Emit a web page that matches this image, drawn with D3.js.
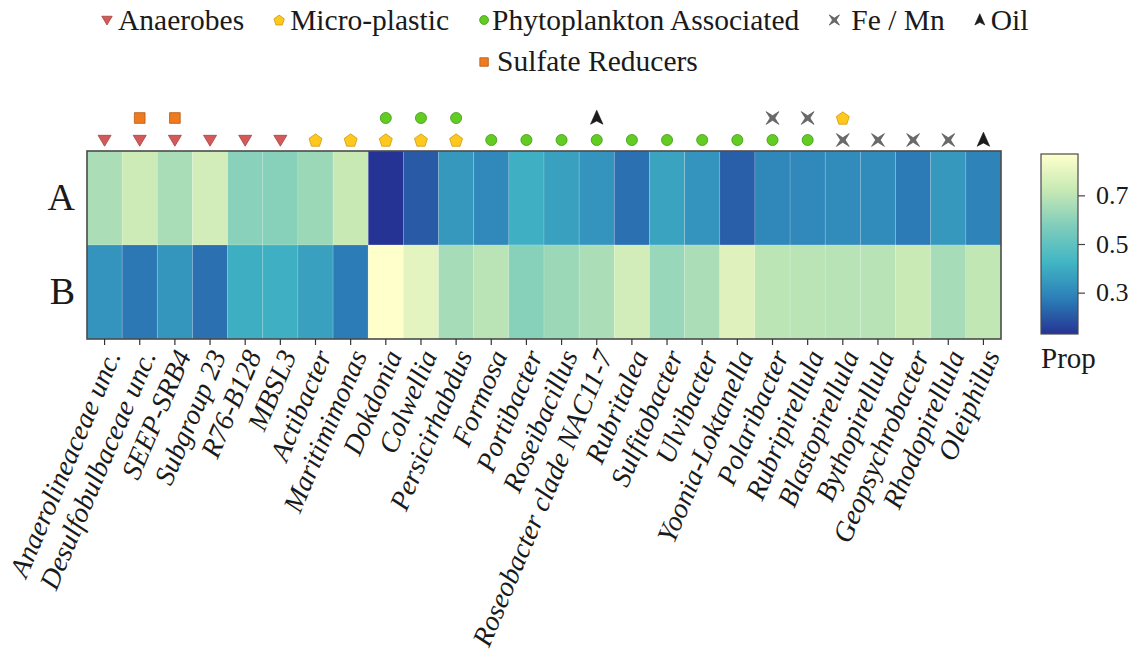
<!DOCTYPE html>
<html>
<head>
<meta charset="utf-8">
<script src="https://cdn.jsdelivr.net/npm/d3@7"></script>
<style>
  body { margin: 0; background: #fff; }
  text { font-family: "Liberation Serif", "Times New Roman", serif; fill: #1a1a1a; }
</style>
</head>
<body>
<svg id="chart" width="1139" height="668" font-family="Liberation Serif, Times New Roman, serif"></svg>
<script>
// Genera shown along the x axis
const taxa = [
  "Anaerolineaceae unc.", "Desulfobulbaceae unc.", "SEEP-SRB4", "Subgroup 23", "R76-B128", "MBSL3",
  "Actibacter", "Maritimimonas", "Dokdonia", "Colwellia", "Persicirhabdus", "Formosa",
  "Portibacter", "Roseibacillus", "Roseobacter clade NAC11-7", "Rubritalea", "Sulfitobacter",
  "Ulvibacter", "Yoonia-Loktanella", "Polaribacter", "Rubripirellula", "Blastopirellula",
  "Bythopirellula", "Geopsychrobacter", "Rhodopirellula", "Oleiphilus"
];

// Sample rows
const samples = ["A", "B"];

// Proportion of each genus found in sample A and sample B
const propA = [0.665, 0.735, 0.660, 0.750, 0.595, 0.590, 0.630, 0.725, 0.130, 0.205, 0.345, 0.305,
               0.410, 0.370, 0.335, 0.250, 0.375, 0.335, 0.215, 0.300, 0.305, 0.310, 0.310, 0.270,
               0.345, 0.290];
const propB = [0.335, 0.265, 0.340, 0.250, 0.405, 0.410, 0.370, 0.275, 0.870, 0.795, 0.655, 0.695,
               0.590, 0.630, 0.665, 0.750, 0.625, 0.665, 0.785, 0.700, 0.695, 0.690, 0.690, 0.730,
               0.655, 0.710];

// Functional groups and their marker styles
const groupNames  = ["Anaerobes", "Micro-plastic", "Phytoplankton Associated", "Fe / Mn", "Oil", "Sulfate Reducers"];
const groupShapes = ["triangleDown", "pentagon", "circle", "star4", "arrow", "square"];
const groupFill   = ["#d25a5a", "#ffc81e", "#62cc23", "#6a6a6a", "#1c1c1c", "#f07a1e"];
const groupStroke = ["#a84040", "#c89a10", "#3f9a12", "#4a4a4a", "#111111", "#b45a14"];

// Group marker per genus: row next to the heatmap and the row above it
const markerLower = [
  "Anaerobes", "Anaerobes", "Anaerobes", "Anaerobes", "Anaerobes", "Anaerobes",
  "Micro-plastic", "Micro-plastic", "Micro-plastic", "Micro-plastic", "Micro-plastic",
  "Phytoplankton Associated", "Phytoplankton Associated", "Phytoplankton Associated",
  "Phytoplankton Associated", "Phytoplankton Associated", "Phytoplankton Associated",
  "Phytoplankton Associated", "Phytoplankton Associated", "Phytoplankton Associated",
  "Phytoplankton Associated", "Fe / Mn", "Fe / Mn", "Fe / Mn", "Fe / Mn", "Oil"
];
const markerUpper = [
  null, "Sulfate Reducers", "Sulfate Reducers", null, null, null, null, null,
  "Phytoplankton Associated", "Phytoplankton Associated", "Phytoplankton Associated",
  null, null, null, "Oil", null, null, null, null, "Fe / Mn", "Fe / Mn", "Micro-plastic",
  null, null, null, null
];

// Colour bar ticks and palette (YlGnBu, light = high)
const colorbarTicks = [0.3, 0.5, 0.7];
const paletteStops = ["#ffffcc", "#c7e9b4", "#7fcdbb", "#41b6c4", "#2c7fb8", "#253494"];

const svg = d3.select("#chart");

// ---- shapes ----
function shapePath(shape, r) {
  const p = d3.path();
  if (shape === "triangleDown") {
    p.moveTo(-r, -0.72 * r); p.lineTo(r, -0.72 * r); p.lineTo(0, 0.95 * r); p.closePath();
  } else if (shape === "pentagon") {
    for (let k = 0; k < 5; k++) {
      const a = (-90 + k * 72) * Math.PI / 180;
      const px = r * Math.cos(a), py = r * Math.sin(a) + 0.1 * r;
      k ? p.lineTo(px, py) : p.moveTo(px, py);
    }
    p.closePath();
  } else if (shape === "circle") {
    p.arc(0, 0, r * 0.85, 0, 2 * Math.PI);
  } else if (shape === "square") {
    const s = r * 0.82;
    p.rect(-s, -s, 2 * s, 2 * s);
  } else if (shape === "star4") {
    for (let k = 0; k < 8; k++) {
      const a = (45 + k * 45) * Math.PI / 180;
      const rr = k % 2 === 0 ? r : r * 0.26;
      const px = rr * Math.cos(a), py = rr * Math.sin(a);
      k ? p.lineTo(px, py) : p.moveTo(px, py);
    }
    p.closePath();
  } else if (shape === "arrow") {
    p.moveTo(0, -r); p.lineTo(0.8 * r, 0.8 * r); p.lineTo(0, 0.38 * r); p.lineTo(-0.8 * r, 0.8 * r); p.closePath();
  }
  return p.toString();
}
// star and arrow glyphs read smaller, so they get a larger radius
const shapeScale = { triangleDown: 1, pentagon: 1.05, circle: 1, square: 1, star4: 1.4, arrow: 1.2 };
function drawMarker(g, group, cx, cy, r) {
  const i = groupNames.indexOf(group);
  const shape = groupShapes[i];
  g.append("path")
    .attr("d", shapePath(shape, r * shapeScale[shape]))
    .attr("transform", `translate(${cx},${cy})`)
    .attr("fill", groupFill[i])
    .attr("stroke", groupStroke[i])
    .attr("stroke-width", shape === "star4" || shape === "arrow" ? 0.6 : 0.8);
}

// ---- scales ----
const plotLeft = 87, plotRight = 1001, plotTop = 151, plotBottom = 339;
const x = d3.scaleBand().domain(taxa).range([plotLeft, plotRight]).padding(0);
const y = d3.scaleBand().domain(samples).range([plotTop, plotBottom]).padding(0);

const allVals = propA.concat(propB);
const vmin = d3.min(allVals), vmax = d3.max(allVals);
const color = d3.scaleLinear()
  .domain(paletteStops.map((_, i) => vmin + i * (vmax - vmin) / (paletteStops.length - 1)))
  .range(paletteStops.slice().reverse())
  .interpolate(d3.interpolateRgb);

// ---- heatmap cells ----
const cells = samples.flatMap((s, i) => taxa.map((t, j) => ({ s, t, v: (i ? propB : propA)[j] })));
svg.append("g").selectAll("rect").data(cells).join("rect")
  .attr("x", d => x(d.t))
  .attr("y", d => y(d.s))
  .attr("width", x.bandwidth())
  .attr("height", y.bandwidth())
  .attr("fill", d => color(d.v))
  .attr("stroke", "rgba(255,255,255,0.18)")
  .attr("stroke-width", 0.8);

svg.append("rect")
  .attr("x", plotLeft).attr("y", plotTop)
  .attr("width", plotRight - plotLeft).attr("height", plotBottom - plotTop)
  .attr("fill", "none").attr("stroke", "#4a4a4a").attr("stroke-width", 1.6);

// ---- x axis ----
const xAxis = svg.append("g")
  .attr("transform", `translate(0,${plotBottom})`)
  .call(d3.axisBottom(x).tickSize(6).tickSizeOuter(0));
xAxis.attr("font-family", null);
xAxis.select(".domain").remove();
xAxis.selectAll(".tick line").attr("stroke", "#333").attr("stroke-width", 1.2);
xAxis.selectAll(".tick text")
  .attr("x", 0).attr("y", 0).attr("dy", "0.3em")
  .attr("transform", "translate(9,13) rotate(-67)")
  .attr("text-anchor", "end")
  .style("font-size", "28px")
  .style("font-style", "italic")
  .attr("fill", "#1a1a1a");

// ---- y axis (sample labels) ----
const yAxis = svg.append("g")
  .attr("transform", `translate(${plotLeft},0)`)
  .call(d3.axisLeft(y).tickSize(0).tickPadding(12));
yAxis.attr("font-family", null);
yAxis.select(".domain").remove();
yAxis.selectAll(".tick text").style("font-size", "38px").attr("fill", "#1a1a1a");

// ---- group markers above the columns ----
const markerG = svg.append("g");
taxa.forEach((t, j) => {
  const cx = x(t) + x.bandwidth() / 2;
  if (markerLower[j]) drawMarker(markerG, markerLower[j], cx, 140, 6.5);
  if (markerUpper[j]) drawMarker(markerG, markerUpper[j], cx, 118, 6.5);
});

// ---- legend ----
const legend = svg.append("g").style("font-size", "29.5px");
let lx = 107;
const legendPos = [];
groupNames.slice(0, 5).forEach((name, i) => {
  legendPos.push(lx);
  drawMarker(legend, name, lx, 20, 5.2);
  const gap = groupShapes[i] === "circle" ? 8 : groupShapes[i] === "star4" ? 17 : 11;
  const t = legend.append("text").attr("x", lx + gap).attr("y", 30).text(name);
  lx = lx + gap + t.node().getComputedTextLength() + 35;
});
drawMarker(legend, groupNames[5], legendPos[2], 62, 5.2);
legend.append("text").attr("x", legendPos[2] + 13).attr("y", 71).text(groupNames[5]);

// ---- colour bar ----
const cbX = 1041, cbW = 37, cbTop = 154, cbBot = 334;
const cbScale = d3.scaleLinear().domain([vmin, vmax]).range([cbBot, cbTop]);
const grad = svg.append("defs").append("linearGradient")
  .attr("id", "cbGrad").attr("x1", 0).attr("y1", 1).attr("x2", 0).attr("y2", 0);
d3.range(0, 1.0001, 0.05).forEach(f => {
  grad.append("stop").attr("offset", f).attr("stop-color", color(vmin + f * (vmax - vmin)));
});
svg.append("rect")
  .attr("x", cbX).attr("y", cbTop).attr("width", cbW).attr("height", cbBot - cbTop)
  .attr("fill", "url(#cbGrad)").attr("stroke", "#4a4a4a").attr("stroke-width", 1.2);
const cbAxis = svg.append("g")
  .attr("transform", `translate(${cbX + cbW},0)`)
  .call(d3.axisRight(cbScale).tickValues(colorbarTicks).tickFormat(d3.format(".1f")).tickSize(7).tickPadding(11));
cbAxis.attr("font-family", null);
cbAxis.select(".domain").remove();
cbAxis.selectAll(".tick line").attr("stroke", "#444").attr("stroke-width", 1.2);
cbAxis.selectAll(".tick text").style("font-size", "26px").attr("fill", "#1a1a1a");
svg.append("text").attr("x", cbX).attr("y", 368).style("font-size", "29px").text("Prop");
</script>
</body>
</html>
